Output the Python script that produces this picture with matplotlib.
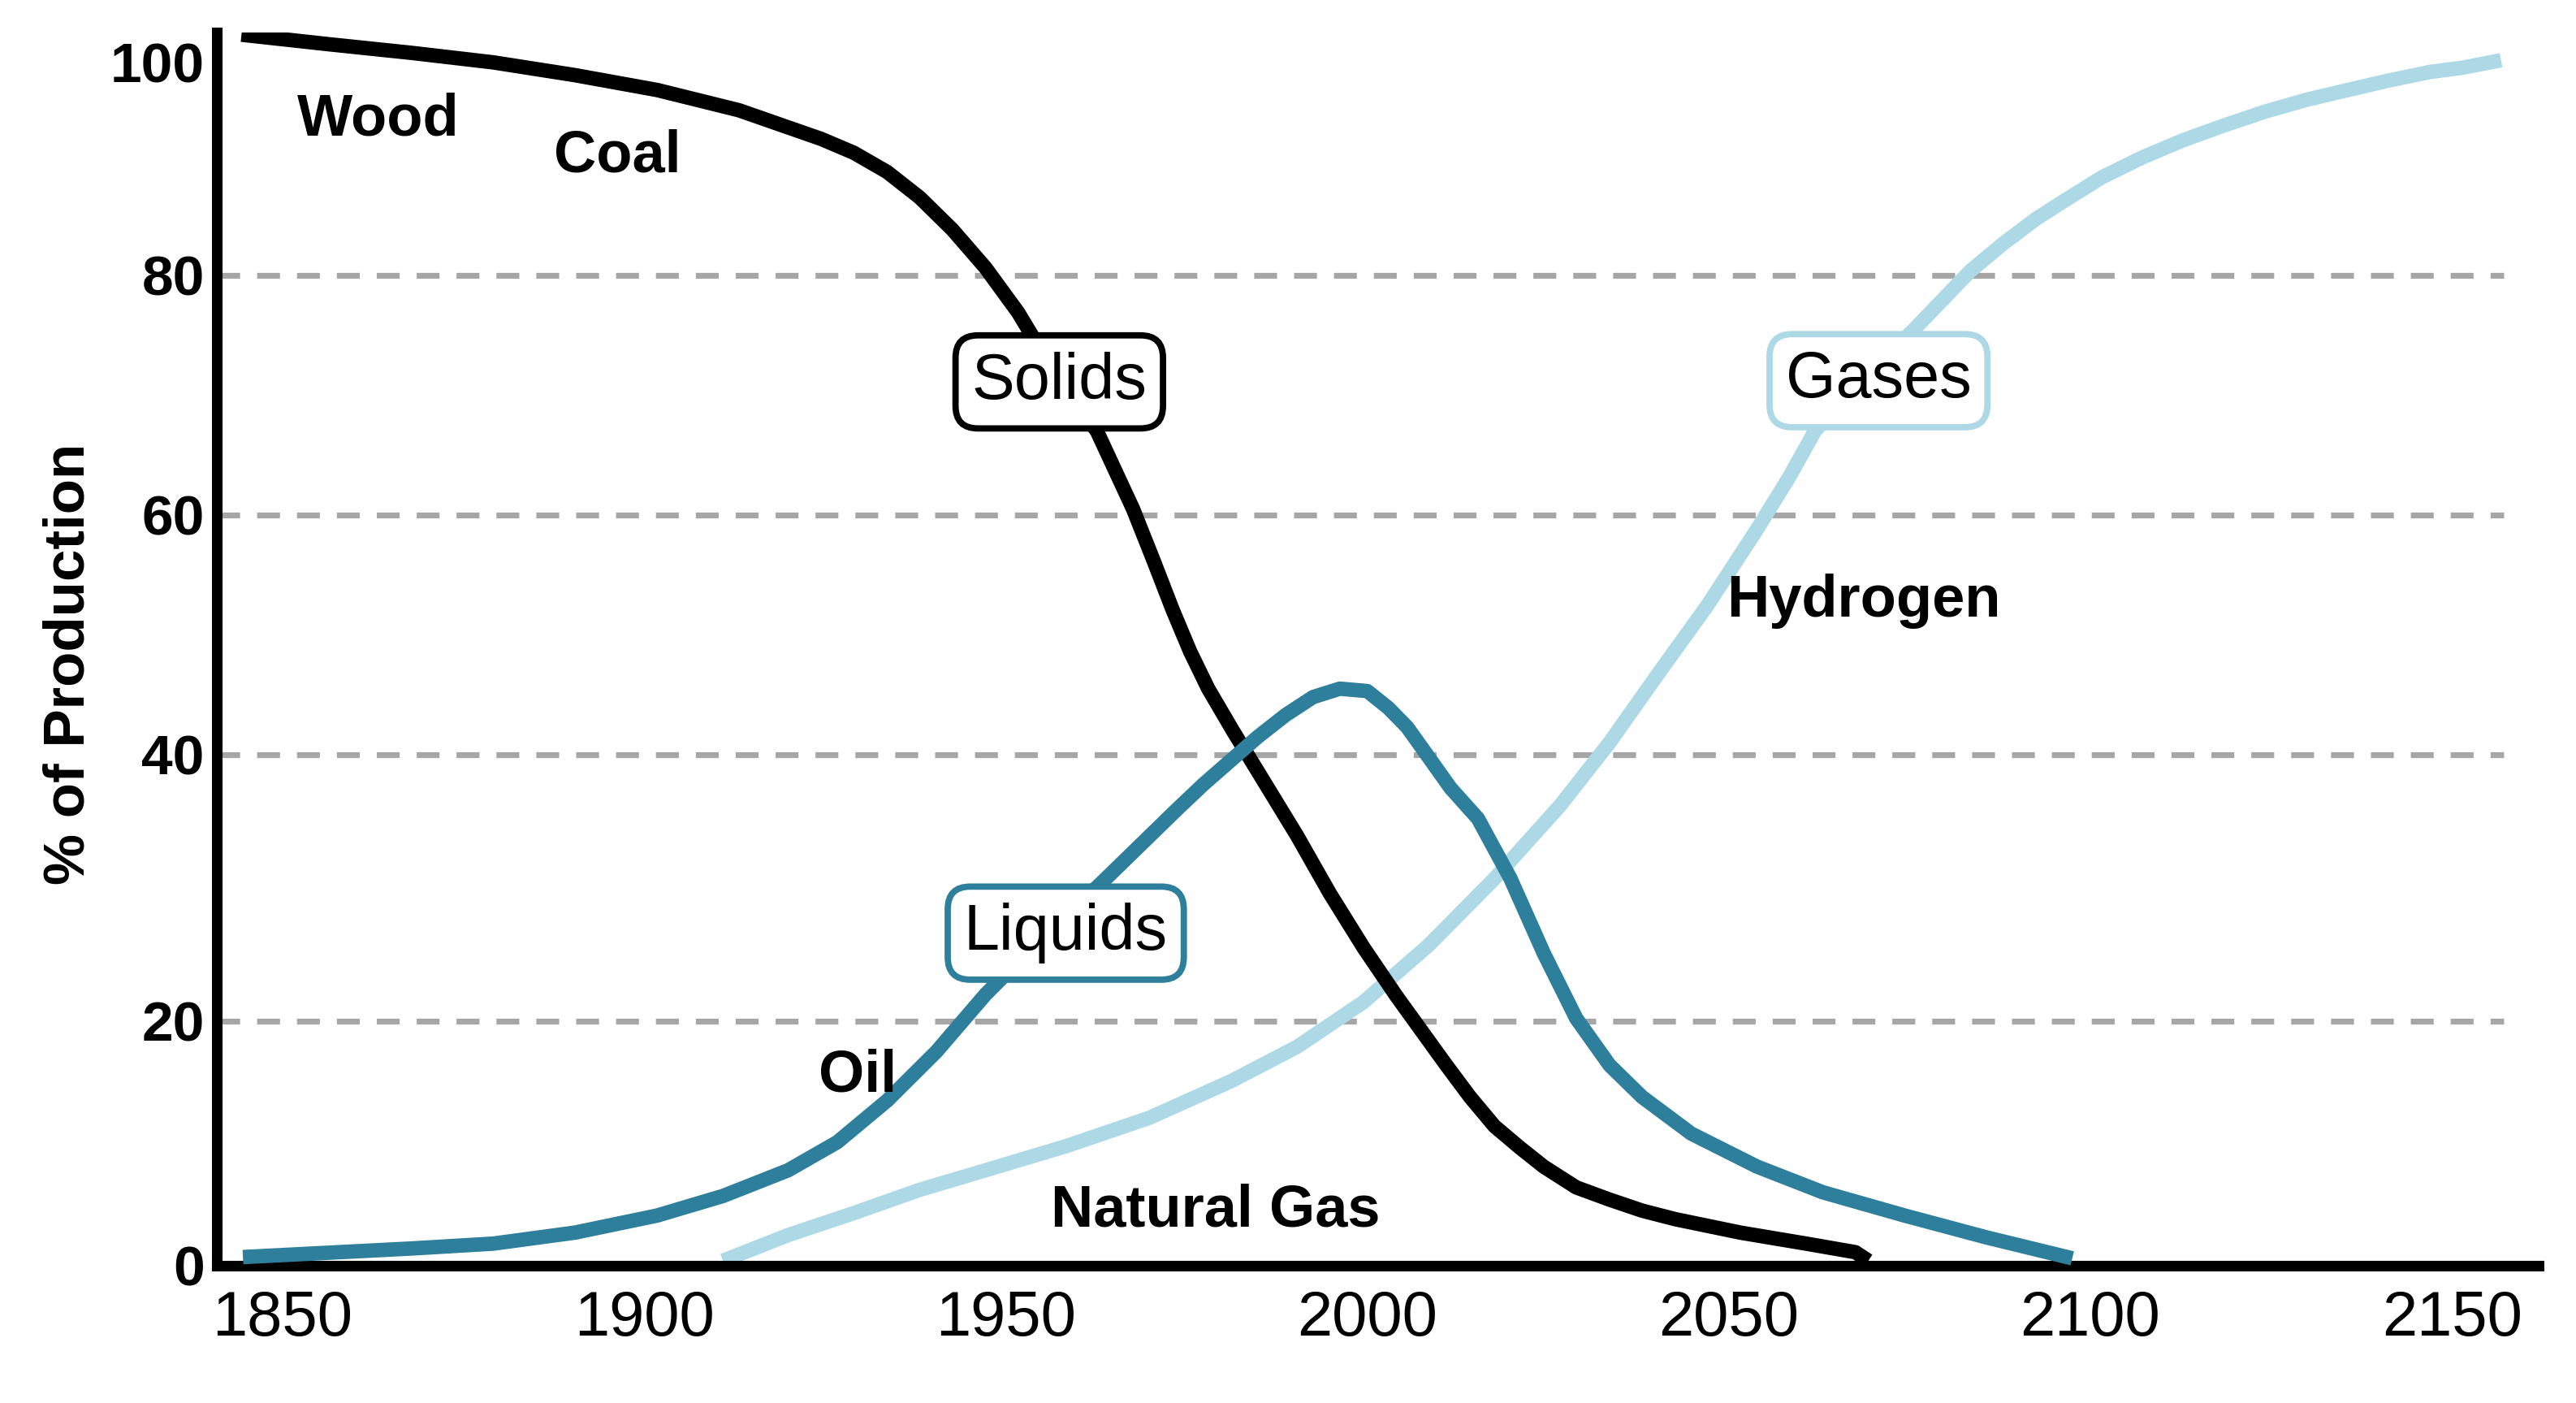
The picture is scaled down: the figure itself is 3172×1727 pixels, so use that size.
import numpy as np
import matplotlib.pyplot as plt

# share of production
solids_year = [1844.3, 1856.4, 1867.7, 1879.1, 1890.4, 1901.8, 1913.1, 1924.5, 1929.0,
               1933.6, 1938.1, 1942.6, 1947.2, 1951.7, 1957.4, 1962.6, 1967.6, 1970.5,
               1973.0, 1975.5, 1978.0, 1981.5, 1984.9, 1990.3, 1994.8, 1999.5, 2004.0,
               2010.8, 2014.2, 2017.6, 2021.0, 2024.4, 2028.9, 2033.5, 2038.0, 2042.6,
               2051.6, 2060.7, 2067.5, 2069.3]
solids_pct = [102.6, 101.7, 100.9, 100.0, 98.8, 97.4, 95.5, 92.8, 91.5,
              89.7, 87.3, 84.3, 80.7, 76.9, 71.2, 67.0, 60.5, 56.1,
              52.2, 48.6, 45.5, 41.9, 38.7, 33.9, 29.6, 25.5, 21.9,
              16.5, 13.8, 11.4, 9.7, 8.1, 6.4, 5.4, 4.5, 3.8,
              2.7, 1.8, 1.1, 0.4]

liquids_year = [1844.5, 1867.7, 1879.1, 1890.4, 1901.8, 1910.9, 1919.9, 1926.7, 1933.6,
                1940.4, 1947.2, 1955.1, 1963.1, 1973.7, 1977.4, 1981.2, 1984.9, 1988.7,
                1992.5, 1996.2, 2000.0, 2002.9, 2005.5, 2007.4, 2011.5, 2015.3, 2019.8,
                2024.4, 2028.9, 2033.5, 2038.0, 2044.8, 2053.9, 2063.0, 2074.3, 2085.7,
                2097.5]
liquids_pct = [0.7, 1.4, 1.8, 2.7, 4.1, 5.7, 7.8, 10.1, 13.5,
               17.5, 22.0, 26.3, 30.3, 35.9, 37.8, 39.6, 41.5, 43.3,
               44.8, 45.5, 45.3, 43.9, 42.3, 40.7, 37.5, 35.2, 30.7,
               25.1, 20.2, 16.4, 13.8, 10.8, 8.1, 6.0, 4.1, 2.3,
               0.6]

gases_year = [1910.9, 1919.9, 1929.0, 1938.1, 1947.2, 1958.5, 1969.9, 1981.2, 1990.3,
              1999.4, 2008.5, 2017.6, 2026.7, 2033.5, 2040.3, 2047.1, 2053.9, 2058.4,
              2061.9, 2068.7, 2075.5, 2083.4, 2088.0, 2092.5, 2097.1, 2101.6, 2107.3,
              2112.9, 2118.6, 2124.3, 2130.0, 2135.6, 2141.3, 2147.0, 2151.5, 2156.8]
gases_pct = [0.4, 2.5, 4.3, 6.2, 7.8, 9.8, 12.1, 15.1, 17.9,
             21.4, 25.7, 30.7, 36.2, 41.0, 46.8, 52.5, 58.8, 63.2,
             67.0, 71.5, 75.4, 80.4, 83.0, 85.3, 87.3, 89.2, 91.1,
             92.7, 94.1, 95.4, 96.5, 97.4, 98.3, 99.1, 99.5, 100.2]

x_ticks = [1850, 1900, 1950, 2000, 2050, 2100, 2150]
y_ticks = [0, 20, 40, 60, 80, 100]
grid_y = [20, 40, 60, 80]

black = "#000000"
teal = "#2E7F9B"
light = "#ADD8E6"

# the original y axis is drawn by hand, spacing between gridlines is uneven
knot_v = [-20, 0, 20, 40, 60, 80, 100, 120]
knot_h = [-301, 0, 301, 629, 924, 1219, 1481, 1743]


def fwd(v):
    return np.interp(v, knot_v, knot_h)


def inv(h):
    return np.interp(h, knot_h, knot_v)


plt.rcParams["font.family"] = ["Liberation Sans Narrow", "Liberation Sans", "DejaVu Sans"]

fig = plt.figure(figsize=(15.86, 8.635), dpi=200)
ax = fig.add_axes([0.0842, 0.0979, 0.9013, 0.8789])
ax.set_yscale("function", functions=(fwd, inv))
ax.set_xlim(1840.9, 2162)
ax.set_ylim(0, 102.8)

ax.hlines(grid_y, 1840.9, 2157.2, colors="#A6A6A6", linewidth=2.6,
          linestyles=(0, (3.9, 2.9)), zorder=1)

kw = dict(lw=6.4, solid_capstyle="butt", solid_joinstyle="round")
ax.plot(gases_year, gases_pct, color=light, zorder=2, **kw)
ax.plot(solids_year, solids_pct, color=black, zorder=3, **kw)
ax.plot(liquids_year, liquids_pct, color=teal, zorder=4, **kw)

for name, x, y in [("Wood", 1863.2, 94.6), ("Coal", 1896.3, 91.2), ("Oil", 1929.5, 15.5),
                   ("Natural Gas", 1979.0, 4.5), ("Hydrogen", 2068.7, 52.8)]:
    ax.text(x, y, name, fontsize=26, fontweight="bold", ha="center", va="center", zorder=6)

for name, x, y, c in [("Solids", 1957.4, 71.1, black), ("Liquids", 1958.3, 26.6, teal),
                      ("Gases", 2070.7, 71.2, light)]:
    ax.text(x, y, name, fontsize=28.5, ha="center", va="center", zorder=7,
            bbox=dict(boxstyle="round,pad=0.25,rounding_size=0.35", fc="white", ec=c, lw=2.8))

ax.set_xticks(x_ticks)
ax.set_yticks(y_ticks)
ax.set_xticklabels([str(t) for t in x_ticks], fontsize=28)
ax.set_yticklabels([str(t) for t in y_ticks], fontsize=25, fontweight="bold")
ax.tick_params(length=0)
ax.tick_params(axis="x", pad=10.5)
ax.tick_params(axis="y", pad=5.5)

for s in ["top", "right"]:
    ax.spines[s].set_visible(False)
for s in ["left", "bottom"]:
    ax.spines[s].set_linewidth(4.7)
    ax.spines[s].set_capstyle("projecting")

fig.text(86 / 3172, 1 - 817 / 1727, "% of Production", rotation=90, fontsize=25.5,
         fontweight="bold", ha="center", va="center")

fig.savefig("out.png", dpi=200)
